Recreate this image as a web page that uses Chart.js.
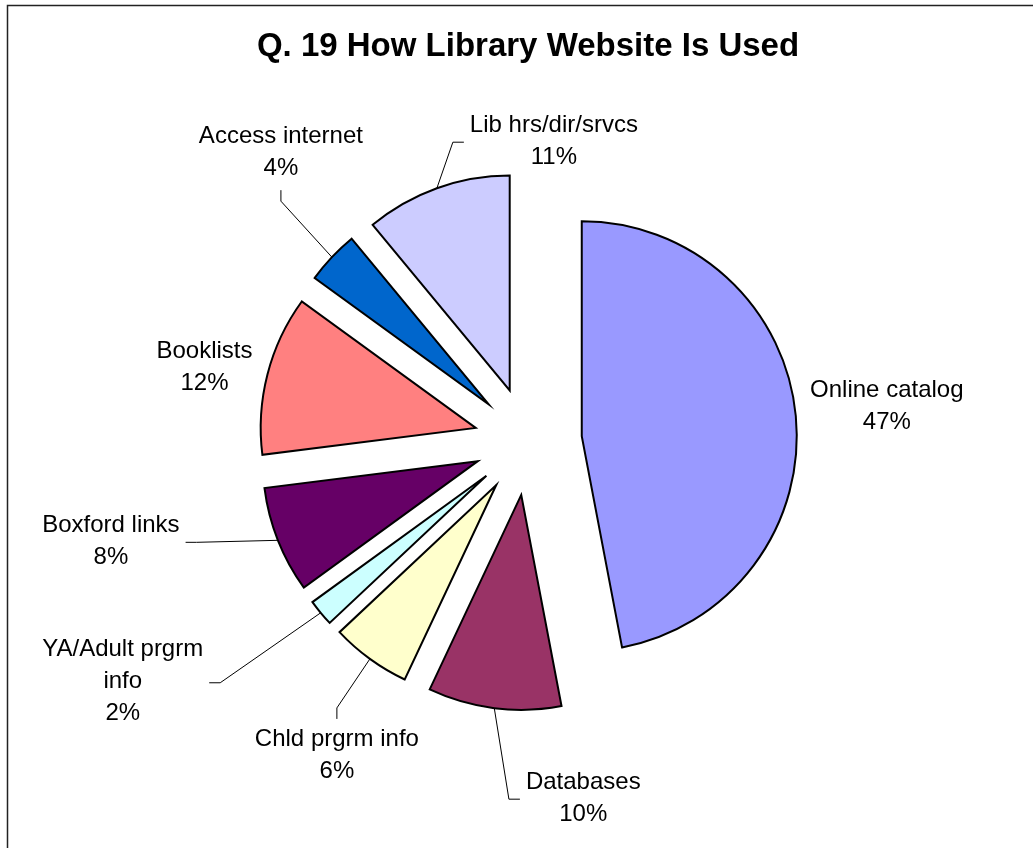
<!DOCTYPE html>
<html>
<head>
<meta charset="utf-8">
<title>Q. 19 How Library Website Is Used</title>
<script src="https://cdn.jsdelivr.net/npm/chart.js@4.4.0/dist/chart.umd.min.js"></script>
<style>
  html, body { margin: 0; padding: 0; background: #fff; }
  #wrap { width: 1033px; height: 848px; }
</style>
</head>
<body>
<div id="wrap"><canvas id="websiteChart" width="1033" height="848"></canvas></div>
<script>
// Answers to Q. 19, clockwise from 12 o'clock
const categories = ['Online catalog', 'Databases', 'Chld prgrm info', 'YA/Adult prgrm info',
                    'Boxford links', 'Booklists', 'Access internet', 'Lib hrs/dir/srvcs'];
const percents = [47, 10, 6, 2, 8, 12, 4, 11];
// how each category name wraps in its label
const labelLines = [['Online catalog'], ['Databases'], ['Chld prgrm info'], ['YA/Adult prgrm', 'info'],
                    ['Boxford links'], ['Booklists'], ['Access internet'], ['Lib hrs/dir/srvcs']];

// Excel-style palette
const sliceColors = ['#9999FF', '#993366', '#FFFFCC', '#CCFFFF', '#660066', '#FF8080', '#0066CC', '#CCCCFF'];

const EXPLODE = 54;      // every slice pulled out by this many px
const LINE_H = 32;       // label line height
// label block centre relative to the outer edge of its slice
const labelNudge = [[91, -10], [89, 90], [-33, 96], [-198, 69], [-167, 1], [-63, -7], [-51, -105], [117, -47]];

// pull each slice out along its bisector
const explode = {
  id: 'explode',
  beforeDatasetsDraw(chart) {
    const ctx = chart.ctx;
    chart.getDatasetMeta(0).data.forEach(arc => {
      const mid = (arc.startAngle + arc.endAngle) / 2;
      ctx.save();
      ctx.translate(Math.cos(mid) * EXPLODE, Math.sin(mid) * EXPLODE);
      arc.draw(ctx, chart.chartArea);
      ctx.restore();
    });
    return false;
  }
};

// category + percent labels, with leader lines for the ones placed far out
const sliceLabels = {
  id: 'sliceLabels',
  afterDraw(chart) {
    const ctx = chart.ctx;
    const arcs = chart.getDatasetMeta(0).data;
    ctx.save();
    ctx.font = '24px "Liberation Sans", Arial, sans-serif';
    ctx.textAlign = 'center';
    ctx.textBaseline = 'middle';
    arcs.forEach((arc, i) => {
      const mid = (arc.startAngle + arc.endAngle) / 2;
      const reach = arc.outerRadius + EXPLODE;
      const px = arc.x + Math.cos(mid) * reach;
      const py = arc.y + Math.sin(mid) * reach;
      const lines = labelLines[i].concat([percents[i] + '%']);
      const cx = px + labelNudge[i][0];
      const cy = py + labelNudge[i][1];
      const first = cy - (lines.length - 1) * LINE_H / 2;
      const last = first + (lines.length - 1) * LINE_H;

      ctx.fillStyle = '#000';
      lines.forEach((t, k) => ctx.fillText(t, cx, first + k * LINE_H));

      const w = Math.max(...lines.map(t => ctx.measureText(t).width));
      const box = { l: cx - w / 2 - 6, r: cx + w / 2 + 6, t: first - 20, b: last + 22 };
      const nx = Math.min(Math.max(px, box.l), box.r);
      const ny = Math.min(Math.max(py, box.t), box.b);
      if (Math.hypot(px - nx, py - ny) < 20) return;

      let ax, ay, ex, ey;
      if (px < box.l) { ax = box.l; ay = (box.t + box.b) / 2; ex = ax - 11; ey = ay; }
      else if (px > box.r) { ax = box.r; ay = (box.t + box.b) / 2; ex = ax + 11; ey = ay; }
      else if (py > box.b) { ax = cx; ay = box.b; ex = ax; ey = ay + 11; }
      else { ax = cx; ay = box.t; ex = ax; ey = ay - 11; }

      ctx.strokeStyle = '#000';
      ctx.lineWidth = 1;
      ctx.beginPath();
      ctx.moveTo(px, py);
      ctx.lineTo(ex, ey);
      ctx.lineTo(ax, ay);
      ctx.stroke();
    });
    ctx.restore();
  }
};

// white background and the plot frame
const frame = {
  id: 'frame',
  beforeDraw(chart) {
    const ctx = chart.ctx;
    ctx.save();
    ctx.fillStyle = '#fff';
    ctx.fillRect(0, 0, chart.width, chart.height);
    ctx.strokeStyle = '#222';
    ctx.lineWidth = 1.5;
    ctx.strokeRect(7.5, 5.5, chart.width + 20, chart.height + 20);
    ctx.restore();
  }
};

new Chart(document.getElementById('websiteChart'), {
  type: 'pie',
  data: {
    labels: categories,
    datasets: [{
      data: percents,
      backgroundColor: sliceColors,
      borderColor: '#000',
      borderWidth: 2,
      borderJoinStyle: 'miter',
      radius: 215
    }]
  },
  options: {
    responsive: false,
    animation: false,
    devicePixelRatio: 1,
    layout: { padding: { left: 23, right: 0, top: 0, bottom: 32 } },
    plugins: {
      legend: { display: false },
      tooltip: { enabled: false },
      title: {
        display: true,
        text: 'Q. 19 How Library Website Is Used',
        color: '#000',
        font: { family: '"Liberation Sans", Arial, sans-serif', size: 33, weight: 'bold', lineHeight: 1.2 },
        padding: { top: 27, bottom: 0 }
      }
    }
  },
  plugins: [frame, explode, sliceLabels]
});
</script>
</body>
</html>
